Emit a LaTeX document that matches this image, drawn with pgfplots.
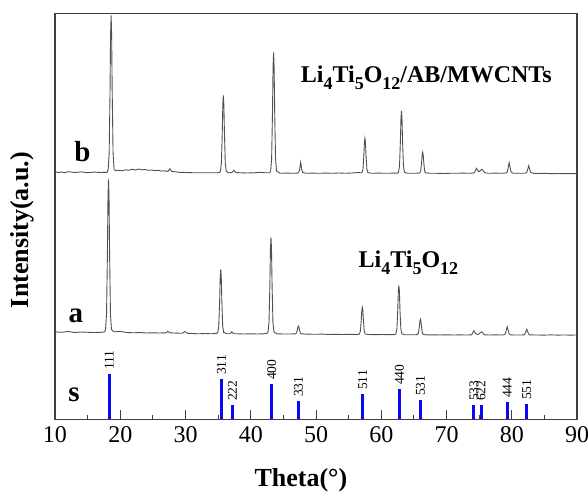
\documentclass[border=0pt]{standalone}
\usepackage{fontspec}
\setmainfont{Liberation Serif}
\usepackage{pgfplots}
\pgfplotsset{compat=1.18}
\definecolor{axisgray}{HTML}{404040}
\definecolor{curvegray}{HTML}{505050}
\definecolor{stickblue}{HTML}{0A0AF0}
\newcommand{\sub}[1]{\raisebox{-7.5pt}{\fontsize{18}{18}\selectfont #1}}
\begin{document}
\begin{tikzpicture}
\useasboundingbox (-55pt,-74.7pt) rectangle (533pt,419.3pt);
\begin{axis}[
  at={(0,0)}, anchor=south west,
  width=522pt, height=406pt, scale only axis,
  xmin=10, xmax=90, ymin=0, ymax=406,
  xtick={10,20,...,90}, minor x tick num=1,
  ytick=\empty,
  xtick pos=bottom, tick align=inside,
  major tick length=9pt, minor tick length=4.5pt,
  axis line style={draw=axisgray, line width=1.2pt},
  every tick/.style={axisgray, line width=1pt},
  /pgf/number format/assume math mode=true,
  ticklabel style={font=\fontsize{24}{26}\selectfont},
  xticklabel style={yshift=-4pt},
  xlabel={\textbf{Theta(\textdegree)}},
  ylabel={\textbf{Intensity(a.u.)}},
  label style={font=\fontsize{26}{28}\selectfont},
  xlabel style={at={(axis description cs:0.471,0)}, anchor=base, yshift=-67pt},
  ylabel style={at={(axis description cs:0,0.466)}, anchor=center, yshift=33pt},
  clip=false,
]
% curve a
\addplot[color=curvegray, line width=0.9pt] coordinates {
(10,87.5)(11,87)(12,87.8)(13,86.8)(14,87.3)(15,87)(16,86.8)(17,87)(17.6,87.3)
(17.75,90)(17.9,105.4)(18.03,163.5)(18.12,221.6)(18.2,240)(18.28,221.6)(18.37,163.5)(18.5,105.4)(18.65,90)
(19,87.5)(20,87.8)(21,86.8)(22,86.5)(23,86.8)(24,86.3)(25,86.5)(26,86.3)(27,86.5)(27.3,88)(27.6,86.5)(28.5,86.2)(29.5,86)(29.9,87.8)(30.3,86)(31,85.8)(32,85.5)(33,85.8)(34,85.5)(34.8,86)
(34.95,87)(35.1,93.4)(35.23,117.7)(35.32,142)(35.4,150)(35.48,142)(35.57,117.7)(35.7,93.4)(35.85,87)
(36.3,85.5)(36.8,85.5)(37.1,87.5)(37.4,85.5)(38,85.5)(39,85.3)(40,85.5)(41,85.3)(42,85.5)(42.5,86)
(42.65,87.4)(42.8,97.1)(42.93,133.8)(43.02,170.4)(43.1,182)(43.18,170.4)(43.27,133.8)(43.4,97.1)(43.55,87.4)
(44,85.5)(45,85.3)(46,85.3)(46.7,85.4)
(46.85,85.5)(47.0,86.3)(47.13,89.3)(47.22,92.3)(47.3,93.3)(47.38,92.3)(47.47,89.3)(47.6,86.3)(47.75,85.5)
(48.5,85.2)(50,85)(51,85.2)(52,84.8)(53,85)(54,84.8)(55,85)(56,84.8)(56.5,85)
(56.65,85.3)(56.8,88.1)(56.93,98.5)(57.02,108.8)(57.1,112)(57.18,108.8)(57.27,98.5)(57.4,88.1)(57.55,85.3)
(58,84.8)(59,84.6)(60,84.8)(61,84.6)(62,84.6)(62.1,84.8)
(62.25,85.6)(62.4,90.5)(62.53,109.3)(62.62,128.1)(62.7,134)(62.78,128.1)(62.87,109.3)(63.0,90.5)(63.15,85.6)
(63.6,84.5)(64.5,84.5)(65.4,84.6)
(65.55,84.8)(65.7,86.4)(65.83,92.3)(65.92,98.1)(66.0,100)(66.08,98.1)(66.17,92.3)(66.3,86.4)(66.45,84.8)
(67,84.4)(68,84.5)(69,84.3)(70,84.5)(71,84.3)(72,84.4)(73,84.3)(73.8,84.4)
(73.95,85.5)(74.1,87.5)(74.2,88.6)(74.3,87.5)(74.5,85.5)(74.75,84.8)(75.0,85.5)(75.25,87)(75.4,87.4)(75.55,86.5)(75.8,84.5)
(76.5,84.3)(77.5,84.4)(78.5,84.3)(78.85,84.6)
(79.0,85.5)(79.15,89)(79.3,92.6)(79.45,89)(79.6,85.5)(79.8,84.4)
(80.5,84.3)(81.5,84.3)(81.95,84.5)(82.1,86.5)(82.2,88.5)(82.3,90)(82.4,88.5)(82.5,86.5)(82.7,84.5)
(83.5,84.3)(85,84.2)(86,84.4)(87,84.2)(88,84.3)(89,84.2)(90,84.3)
};
% curve b
\addplot[color=curvegray, line width=0.9pt] coordinates {
(10,247.5)(10.5,246.8)(11,247.3)(11.5,246.6)(12,247.6)(13,246.8)(14,247.4)(15,246.6)(16,247.2)(17,246.8)(18.0,247)
(18.15,250)(18.3,265.8)(18.43,325.5)(18.52,385.2)(18.6,404)(18.68,385.2)(18.77,325.5)(18.9,265.8)(19.05,250)
(19.3,248.5)(19.8,249)(20.3,248.5)(20.8,249.5)(21.3,249)(21.8,250)(22.3,249.3)(22.8,250.3)(23.3,249.5)(23.8,249.8)(24.3,249)(24.8,249.3)(25.3,248.6)(25.8,249)(26.3,248.2)(26.8,248.5)(27.3,247.8)(27.6,250.5)(27.9,247.8)(28.5,247.5)(29,247)(30,246.8)(31,246.6)(32,246.5)(33,246.6)(34,246.5)(35,246.6)(35.2,246.8)
(35.35,248)(35.5,255.8)(35.63,285.3)(35.72,314.7)(35.8,324)(35.88,314.7)(35.97,285.3)(36.1,255.8)(36.25,248)
(36.6,246.5)(37.1,246.8)(37.4,249)(37.7,246.8)(38.5,246.5)(39.5,246.3)(40.5,246.5)(41.5,247)(42.2,246.5)(42.9,246.6)
(43.05,248.4)(43.2,260.5)(43.33,306.5)(43.42,352.5)(43.5,367)(43.58,352.5)(43.67,306.5)(43.8,260.5)(43.95,248.4)
(44.5,246)(45.5,246.2)(46.5,246)(47.2,246.2)
(47.35,246.8)(47.5,250)(47.6,255)(47.65,257)(47.7,255)(47.8,250)(47.95,246.8)
(48.5,246)(49.5,246.2)(50.5,246)(51.5,246.2)(52.5,246)(53.5,246.3)(54.5,246)(55.5,246.3)(56.5,246.8)(56.9,246.5)
(57.05,246.7)(57.2,250.2)(57.33,263.5)(57.42,276.8)(57.5,281)(57.58,276.8)(57.67,263.5)(57.8,250.2)(57.95,246.7)
(58.5,246)(59.5,246.2)(60.5,246)(61.5,246.1)(62.5,246.2)
(62.65,247.2)(62.8,253.5)(62.93,277.2)(63.02,300.8)(63.1,308.3)(63.18,300.8)(63.27,277.2)(63.4,253.5)(63.55,247.2)
(64,246)(65,246)(65.75,246.2)
(65.9,246.4)(66.05,248.5)(66.18,256.5)(66.27,264.5)(66.35,267)(66.43,264.5)(66.52,256.5)(66.65,248.5)(66.8,246.4)
(67.5,246)(68.5,246)(69.5,245.8)(70.5,246)(71.5,246)(72.5,246.2)(73.5,246)(74.2,246.3)
(74.35,247.5)(74.5,249.8)(74.6,251)(74.7,249.8)(74.9,247.8)(75.1,248)(75.3,249.5)(75.45,250)(75.6,249)(75.85,246.5)
(76.5,246)(77.5,246.2)(78.5,246)(79.15,246.4)
(79.3,247.3)(79.45,251.5)(79.6,256.6)(79.75,251.5)(79.9,247.3)(80.2,246)
(81,246.1)(82.0,246)(82.3,246.8)(82.45,250)(82.6,253.6)(82.75,250)(82.9,246.8)(83.3,246)
(84,245.8)(85,246)(86,245.6)(87,245.8)(88,245.6)(89,245.7)(90,245.6)
};
% standard sticks
\addplot[ycomb, color=stickblue, line width=3pt, mark=none,
  nodes near coords, point meta=explicit symbolic,
  every node near coord/.style={rotate=90, anchor=west, inner sep=3pt, text=black, font=\fontsize{13.5}{14}\selectfont}]
  table[x=x, y=h, meta=lab] {
x h lab
18.3 45 111
35.5 40 311
37.2 14 222
43.2 35 400
47.3 18 331
57.15 25 511
62.8 30 440
66.0 19 531
74.2 14 533
75.3 14 622
79.3 17 444
82.3 15 551
};
\node[anchor=base, font=\fontsize{29}{30}\selectfont\bfseries] at (axis cs:14.2,257.6) {b};
\node[anchor=base, font=\fontsize{29}{30}\selectfont\bfseries] at (axis cs:13.2,96.6) {a};
\node[anchor=base, font=\fontsize{29}{30}\selectfont\bfseries] at (axis cs:12.9,17.6) {s};
\node[anchor=base west, inner sep=0pt, font=\fontsize{24}{26}\selectfont\bfseries] at (axis cs:47.65,337) {Li\sub{4}Ti\sub{5}O\sub{12}/AB/MWCNTs};
\node[anchor=base west, inner sep=0pt, font=\fontsize{24}{26}\selectfont\bfseries] at (axis cs:56.5,152) {Li\sub{4}Ti\sub{5}O\sub{12}};
\end{axis}
\end{tikzpicture}
\end{document}
